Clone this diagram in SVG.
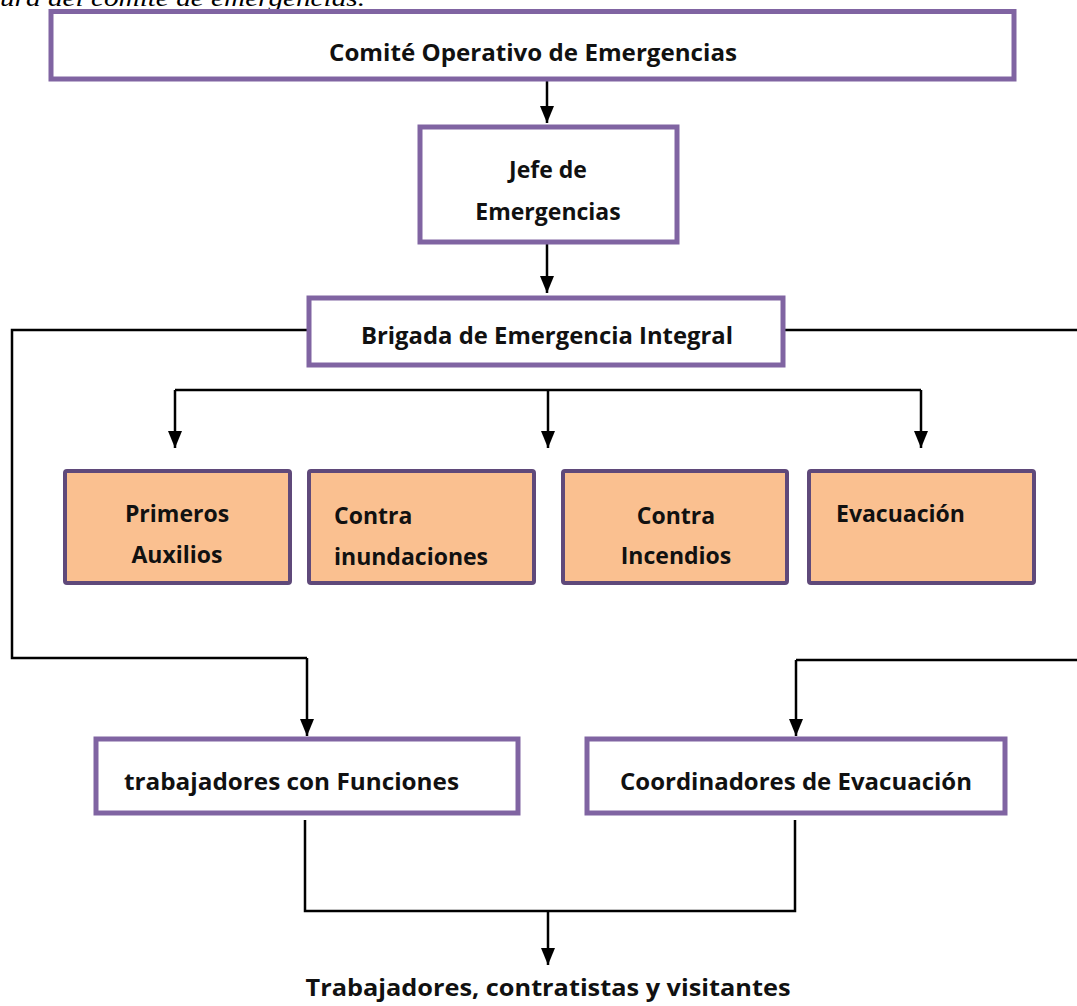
<svg xmlns="http://www.w3.org/2000/svg" width="1077" height="1006" viewBox="0 0 1077 1006">
<defs>
<marker id="ah" markerWidth="17" markerHeight="14" refX="17" refY="7" orient="auto" markerUnits="userSpaceOnUse" viewBox="0 0 17 14">
<path d="M0,0 L17,7 L0,14 Z" fill="#000"/>
</marker>
<style>
.box{fill:#fff;stroke:#8064A2;stroke-width:5}
.obox{fill:#FAC090;stroke:#5F497A;stroke-width:4}
.t{font-family:"Open Sans","Noto Sans","Liberation Sans",sans-serif;font-weight:700;font-size:23px;fill:#111}
.ln{fill:none;stroke:#000;stroke-width:2.5}
.ar{fill:none;stroke:#000;stroke-width:2.5;marker-end:url(#ah)}
.cap{font-family:"Liberation Serif",serif;font-style:italic;font-size:24px;fill:#000}
</style>
</defs>
<rect width="1077" height="1006" fill="#fff"/>
<text class="cap" x="0" y="6" textLength="365" lengthAdjust="spacingAndGlyphs">ura del comité de emergencias.</text>

<g id="connectors">
<line class="ar" x1="547" y1="80" x2="547" y2="123"/>
<line class="ar" x1="547" y1="244" x2="547" y2="293"/>
<polyline class="ln" points="307,330 12,330 12,658 307,658"/>
<line class="ar" x1="307" y1="658" x2="307" y2="736"/>
<polyline class="ln" points="785,330 1077,330"/>
<polyline class="ln" points="1077,660 796,660"/>
<line class="ar" x1="796" y1="660" x2="796" y2="736"/>
<line class="ln" x1="175" y1="390" x2="921" y2="390"/>
<line class="ar" x1="175" y1="390" x2="175" y2="448"/>
<line class="ar" x1="548" y1="390" x2="548" y2="448"/>
<line class="ar" x1="921" y1="390" x2="921" y2="448"/>
<polyline class="ln" points="305,820 305,911 795,911 795,820"/>
<line class="ar" x1="548" y1="911" x2="548" y2="965"/>
</g>

<g id="n-comite">
<rect class="box" x="51" y="11.5" width="963" height="67.5"/>
<text class="t" x="533" y="61" text-anchor="middle" textLength="408" lengthAdjust="spacingAndGlyphs">Comité Operativo de Emergencias</text>
</g>
<g id="n-jefe">
<rect class="box" x="420" y="127" width="257" height="115"/>
<text class="t" x="548" y="178" text-anchor="middle">Jefe de</text>
<text class="t" x="548" y="220" text-anchor="middle">Emergencias</text>
</g>
<g id="n-brigada">
<rect class="box" x="309" y="298" width="474" height="67"/>
<text class="t" x="547" y="344" text-anchor="middle" textLength="372" lengthAdjust="spacingAndGlyphs">Brigada de Emergencia Integral</text>
</g>
<g id="n-primeros">
<rect class="obox" x="65" y="471" width="225" height="112" rx="2"/>
<text class="t" x="177" y="522" text-anchor="middle">Primeros</text>
<text class="t" x="177" y="563" text-anchor="middle">Auxilios</text>
</g>
<g id="n-inundaciones">
<rect class="obox" x="309" y="471" width="225" height="112" rx="2"/>
<text class="t" x="334" y="524">Contra</text>
<text class="t" x="334" y="565">inundaciones</text>
</g>
<g id="n-incendios">
<rect class="obox" x="563" y="471" width="224" height="112" rx="2"/>
<text class="t" x="676" y="524" text-anchor="middle">Contra</text>
<text class="t" x="676" y="564" text-anchor="middle">Incendios</text>
</g>
<g id="n-evacuacion">
<rect class="obox" x="809" y="471" width="225" height="112" rx="2"/>
<text class="t" x="836" y="522">Evacuación</text>
</g>
<g id="n-trabajadores">
<rect class="box" x="96" y="739" width="422" height="74"/>
<text class="t" x="124" y="790" textLength="335" lengthAdjust="spacingAndGlyphs">trabajadores  con Funciones</text>
</g>
<g id="n-coordinadores">
<rect class="box" x="587" y="739" width="418" height="74"/>
<text class="t" x="620" y="790" textLength="352" lengthAdjust="spacingAndGlyphs">Coordinadores de Evacuación</text>
</g>
<g id="n-visitantes">
<text class="t" x="548" y="996" text-anchor="middle" textLength="485" lengthAdjust="spacingAndGlyphs">Trabajadores, contratistas y visitantes</text>
</g>
</svg>
